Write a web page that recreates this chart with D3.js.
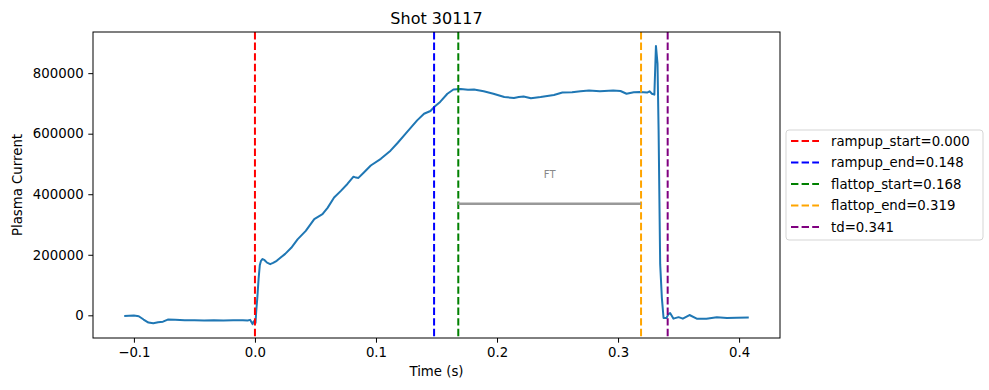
<!DOCTYPE html>
<html>
<head>
<meta charset="utf-8">
<script src="https://cdn.jsdelivr.net/npm/d3@7"></script>
<style>
  body { margin: 0; background: #fff; }
  text { font-family: "DejaVu Sans", sans-serif; fill: #000; }
</style>
</head>
<body>
<svg id="shotView"></svg>
<script>
// Plasma current trace for one shot

let shotTitle = "Shot 30117";

let timeS = [
  -0.108, -0.100, -0.096, -0.092, -0.088, -0.084, -0.080, -0.076, -0.072,
  -0.066, -0.058, -0.050, -0.042, -0.034, -0.026, -0.018, -0.010, -0.006,
  -0.004, -0.002, -0.001, 0.0005, 0.001, 0.002, 0.003, 0.004, 0.005, 0.0063,
  0.008, 0.010, 0.0126, 0.015, 0.018, 0.021, 0.025, 0.030, 0.0352, 0.042,
  0.049, 0.0558, 0.060, 0.0654, 0.071, 0.0764, 0.0814, 0.0835, 0.0855, 0.090,
  0.0957, 0.104, 0.112, 0.118, 0.1245, 0.134, 0.1397, 0.145, 0.148, 0.153,
  0.159, 0.164, 0.170, 0.176, 0.181, 0.189, 0.197, 0.206, 0.214, 0.218,
  0.222, 0.228, 0.236, 0.247, 0.254, 0.262, 0.269, 0.276, 0.285, 0.296,
  0.302, 0.307, 0.313, 0.318, 0.324, 0.326, 0.328, 0.330, 0.3313, 0.3326,
  0.3335, 0.3348, 0.3362, 0.3376, 0.340, 0.3415, 0.343, 0.3458, 0.350,
  0.3535, 0.359, 0.365, 0.373, 0.3816, 0.390, 0.398, 0.408];

let plasmaCurrent = [
  -2000, -1000, -3000, -14000, -24000, -26000, -23000, -21000, -14000,
  -15000, -16500, -16000, -17000, -16000, -17000, -16500, -16000, -17000,
  -15000, -29000, -20000, -25000, 10000, 60000, 120000, 165000, 180000, 186000,
  182000, 174000, 169000, 173000, 180000, 190000, 203000, 223000, 251000, 279000,
  318000, 334000, 355000, 389000, 411000, 434000, 458000, 455000, 454000, 472000,
  495000, 517000, 544000, 570000, 600000, 644000, 666000, 675000, 688000, 705000,
  732000, 746000, 748000, 745000, 746000, 740000, 732000, 721000, 718000, 721000,
  723000, 717000, 721000, 728000, 736000, 737000, 740000, 743000, 740000, 743000,
  741000, 732000, 737000, 738000, 736000, 740000, 732000, 729000, 890000, 832000,
  611000, 169000, 57000, -9000, -9000, 3000, 7600, -11000, -6000,
  -11000, 1000, -11000, -11000, -6600, -8500, -8000, -7600];

// Phase markers shown as dashed vertical lines.
let markerNames = ["rampup_start", "rampup_end", "flattop_start", "flattop_end", "td"];
let markerTimes = [0.000, 0.148, 0.168, 0.319, 0.341];
let markerColors = ["red", "blue", "green", "orange", "purple"];

// Flattop bar and its label.
let flattopLevel = 368500;
let flattopLabel = "FT";
let flattopLabelLevel = 462000;

let xTicks = [-0.1, 0.0, 0.1, 0.2, 0.3, 0.4];
let yTicks = [0, 200000, 400000, 600000, 800000];

function padDomain(values){
  // Matplotlib style 5% margin around the data.
  let ext = d3.extent(values);
  let pad = (ext[1] - ext[0]) * 0.05;
  return [ext[0] - pad, ext[1] + pad];
}

function drawShot(){
  let width = 989;
  let height = 390;
  let svg = d3.select('#shotView')
    .attr("width", width)
    .attr("height", height);

  let margins = {top: 32, bottom: 52, left: 93, right: 209};
  let widthGraphing = width - margins.left - margins.right;
  let heightGraphing = height - margins.top - margins.bottom;

  let xScale = d3.scaleLinear()
    .domain(padDomain(timeS))
    .range([0, widthGraphing]);
  let yScale = d3.scaleLinear()
    .domain(padDomain(plasmaCurrent))
    .range([heightGraphing, 0]);

  let plot = svg.append('g')
    .attr("transform", `translate(${margins.left},${margins.top})`);

  // Clip for the dashed lines and the trace.
  plot.append('clipPath')
    .attr("id", "plotClip")
    .append('rect')
    .attr("width", widthGraphing)
    .attr("height", heightGraphing);

  // Signal trace.
  let lineGenerator = d3.line()
    .x((d, i) => xScale(timeS[i]))
    .y(d => yScale(d));
  plot.append('path')
    .datum(plasmaCurrent)
    .attr("d", lineGenerator)
    .attr("fill", "none")
    .attr("stroke", "#1f77b4")
    .attr("stroke-width", 2)
    .attr("stroke-linejoin", "round")
    .attr("clip-path", "url(#plotClip)");

  // Dashed marker lines.
  plot.selectAll('.marker')
    .data(markerTimes)
    .join('line')
    .attr("class", "marker")
    .attr("x1", d => xScale(d))
    .attr("x2", d => xScale(d))
    .attr("y1", 0)
    .attr("y2", heightGraphing)
    .attr("stroke", (d, i) => markerColors[i])
    .attr("stroke-width", 2)
    .attr("stroke-dasharray", "7.4,3.2");

  // Flattop bar between flattop_start and flattop_end.
  plot.append('line')
    .attr("x1", xScale(markerTimes[2]))
    .attr("x2", xScale(markerTimes[3]))
    .attr("y1", yScale(flattopLevel))
    .attr("y2", yScale(flattopLevel))
    .attr("stroke", "#999")
    .attr("stroke-width", 2.7);
  plot.append('text')
    .attr("x", xScale((markerTimes[2] + markerTimes[3]) / 2))
    .attr("y", yScale(flattopLabelLevel))
    .attr("text-anchor", "middle")
    .attr("dominant-baseline", "middle")
    .style("font-size", "10px")
    .style("fill", "#888")
    .text(flattopLabel);

  // Axes.
  let xAxisGenerator = d3.axisBottom(xScale)
    .tickValues(xTicks)
    .tickFormat(d3.format(".1f"))
    .tickSize(4.7)
    .tickPadding(4.7);
  let xAxis = plot.append('g')
    .attr("transform", `translate(0,${heightGraphing})`)
    .call(xAxisGenerator);
  xAxis.selectAll('text').text(d => d3.format(".1f")(d).replace("-", "\u2212"));

  let yAxisGenerator = d3.axisLeft(yScale)
    .tickValues(yTicks)
    .tickFormat(d3.format("d"))
    .tickSize(4.7)
    .tickPadding(4.7);
  let yAxis = plot.append('g').call(yAxisGenerator);

  [xAxis, yAxis].forEach(a => {
    a.select('.domain').remove();
    a.selectAll('line').attr("stroke", "#000").attr("stroke-width", 1);
    a.selectAll('text')
      .style("font-family", "DejaVu Sans")
      .style("font-size", "13.3px")
      .attr("fill", "#000");
  });

  // Frame.
  plot.append('rect')
    .attr("width", widthGraphing)
    .attr("height", heightGraphing)
    .attr("fill", "none")
    .attr("stroke", "#000")
    .attr("stroke-width", 1);

  // Titles.
  svg.append('text')
    .attr("x", margins.left + widthGraphing / 2)
    .attr("y", margins.top - 8)
    .attr("text-anchor", "middle")
    .style("font-size", "16px")
    .text(shotTitle);
  svg.append('text')
    .attr("x", margins.left + widthGraphing / 2)
    .attr("y", height - 14)
    .attr("text-anchor", "middle")
    .style("font-size", "13.3px")
    .text("Time (s)");
  svg.append('text')
    .attr("transform", `translate(22,${margins.top + heightGraphing / 2}) rotate(-90)`)
    .attr("text-anchor", "middle")
    .style("font-size", "13.3px")
    .text("Plasma Current");

  // Legend, outside on the right.
  let legend = svg.append('g')
    .attr("transform", "translate(786,130)");
  legend.append('rect')
    .attr("width", 197)
    .attr("height", 110)
    .attr("rx", 3)
    .attr("fill", "#fff")
    .attr("stroke", "#d5d5d5")
    .attr("stroke-width", 1);
  let rows = legend.selectAll('.legendRow')
    .data(markerNames)
    .join('g')
    .attr("class", "legendRow")
    .attr("transform", (d, i) => `translate(0,${11 + i * 21.5})`);
  rows.append('line')
    .attr("x1", 5)
    .attr("x2", 33)
    .attr("stroke", (d, i) => markerColors[i])
    .attr("stroke-width", 2)
    .attr("stroke-dasharray", "7.4,3.2");
  rows.append('text')
    .attr("x", 45)
    .attr("dominant-baseline", "central")
    .style("font-size", "13.3px")
    .text((d, i) => `${d}=${markerTimes[i].toFixed(3)}`);
}

drawShot();
</script>
</body>
</html>
